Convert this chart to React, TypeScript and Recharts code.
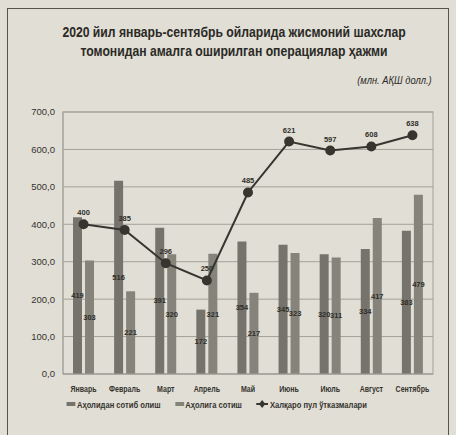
import React from "react";
import {
  ComposedChart,
  Bar,
  Line,
  XAxis,
  YAxis,
  CartesianGrid,
  LabelList,
  Legend,
} from "recharts";

const months = [
  "Январь",
  "Февраль",
  "Март",
  "Апрель",
  "Май",
  "Июнь",
  "Июль",
  "Август",
  "Сентябрь",
];
const buyFromPeople = [419, 516, 391, 172, 354, 345, 320, 334, 383];
const sellToPeople = [303, 221, 320, 321, 217, 323, 311, 417, 479];
const transfers = [400, 385, 296, 250, 485, 621, 597, 608, 638];
const yTicks = [0, 100, 200, 300, 400, 500, 600, 700];

const seriesNames = {
  buy: "Аҳолидан сотиб олиш",
  sell: "Аҳолига сотиш",
  transfer: "Халқаро пул ўтказмалари",
};

const data = months.map((m, i) => ({
  month: m,
  buy: buyFromPeople[i],
  sell: sellToPeople[i],
  transfer: transfers[i],
}));

const FONT = "'Liberation Sans', Arial, sans-serif";
const BG = "#e1ded5";
const BUY = "#75736b";
const SELL = "#85837a";
const LINE = "#36352f";
const TEXT = "#34332e";

// squeezed text, the print uses a narrow typeface
function MonthTick(props: any) {
  const { x, y, payload } = props;
  return (
    <g transform={`translate(${x},${y + 10})`}>
      <text
        transform="scale(0.78,1)"
        textAnchor="middle"
        fontFamily={FONT}
        fontSize={9}
        fontWeight="bold"
        fill={TEXT}
      >
        {payload.value}
      </text>
    </g>
  );
}

function LegendBox() {
  return (
    <div
      style={{
        display: "flex",
        justifyContent: "center",
        height: 14,
        alignItems: "center",
      }}
    >
      <div
        style={{
          display: "flex",
          gap: 18,
          alignItems: "center",
          transform: "scaleX(0.8)",
          fontFamily: FONT,
          fontSize: 9.5,
          fontWeight: "bold",
          color: TEXT,
          whiteSpace: "nowrap",
        }}
      >
        <span style={{ display: "flex", alignItems: "center", gap: 2 }}>
          <span style={{ width: 11, height: 4, background: BUY, display: "inline-block" }} />
          {seriesNames.buy}
        </span>
        <span style={{ display: "flex", alignItems: "center", gap: 2 }}>
          <span style={{ width: 11, height: 4, background: SELL, display: "inline-block" }} />
          {seriesNames.sell}
        </span>
        <span style={{ display: "flex", alignItems: "center", gap: 2 }}>
          <svg width={15} height={8}>
            <line x1={0} y1={4} x2={15} y2={4} stroke={LINE} strokeWidth={2} />
            <polygon points="7.5,0 11.5,4 7.5,8 3.5,4" fill={LINE} />
          </svg>
          {seriesNames.transfer}
        </span>
      </div>
    </div>
  );
}

const labelStyle = { fontFamily: FONT, fontSize: 7.5, fontWeight: "bold", fill: "#2f2e29" };

export default function App() {
  return (
    <div
      style={{
        position: "absolute",
        left: 0,
        top: 0,
        width: 456,
        height: 435,
        background: BG,
        overflow: "hidden",
      }}
    >
      <div
        style={{
          position: "absolute",
          left: 7,
          top: 8,
          width: 440,
          height: 440,
          border: "1.5px solid #55534c",
          borderBottom: "none",
        }}
      />
      <div
        style={{
          position: "absolute",
          left: 0,
          width: 468,
          top: 23,
          textAlign: "center",
          fontFamily: FONT,
          fontWeight: "bold",
          fontSize: 14,
          lineHeight: "19px",
          color: "#2b2a26",
          transform: "scaleX(0.87)",
          transformOrigin: "234px 0",
          whiteSpace: "nowrap",
        }}
      >
        2020 йил январь-сентябрь ойларида жисмоний шахслар
        <br />
        томонидан амалга оширилган операциялар ҳажми
      </div>
      <div
        style={{
          position: "absolute",
          right: 24,
          top: 74,
          fontFamily: FONT,
          fontStyle: "italic",
          fontSize: 11,
          color: "#2b2a26",
          transform: "scaleX(0.85)",
          transformOrigin: "right top",
        }}
      >
        (млн. АҚШ долл.)
      </div>
      <div style={{ position: "absolute", left: 0, top: 0 }}>
        <ComposedChart
          width={456}
          height={435}
          data={data}
          margin={{ top: 112, right: 23, bottom: 24, left: 0 }}
          barSize={9}
          barGap={3}
        >
          <CartesianGrid vertical={false} stroke="#a3a199" strokeWidth={1} />
          <XAxis
            dataKey="month"
            height={23}
            axisLine={{ stroke: "#a3a199" }}
            tickLine={false}
            interval={0}
            tick={<MonthTick />}
          />
          <YAxis
            width={63}
            domain={[0, 700]}
            ticks={yTicks}
            axisLine={{ stroke: "#a3a199" }}
            tickLine={false}
            tickFormatter={(v: number) => v.toFixed(1).replace(".", ",")}
            tick={{ fontFamily: FONT, fontSize: 9.5, fill: TEXT }}
          />
          <Legend verticalAlign="bottom" content={() => <LegendBox />} />
          <Bar dataKey="buy" name={seriesNames.buy} fill={BUY} isAnimationActive={false}>
            <LabelList dataKey="buy" position="center" style={labelStyle} />
          </Bar>
          <Bar dataKey="sell" name={seriesNames.sell} fill={SELL} isAnimationActive={false}>
            <LabelList dataKey="sell" position="center" style={labelStyle} />
          </Bar>
          <Line
            type="linear"
            dataKey="transfer"
            name={seriesNames.transfer}
            stroke={LINE}
            strokeWidth={2}
            dot={{ r: 4, fill: LINE, stroke: LINE }}
            isAnimationActive={false}
          >
            <LabelList dataKey="transfer" position="top" offset={9} style={labelStyle} />
          </Line>
          <rect x={63} y={112} width={370} height={262} fill="none" stroke="#a3a199" />
        </ComposedChart>
      </div>
    </div>
  );
}
